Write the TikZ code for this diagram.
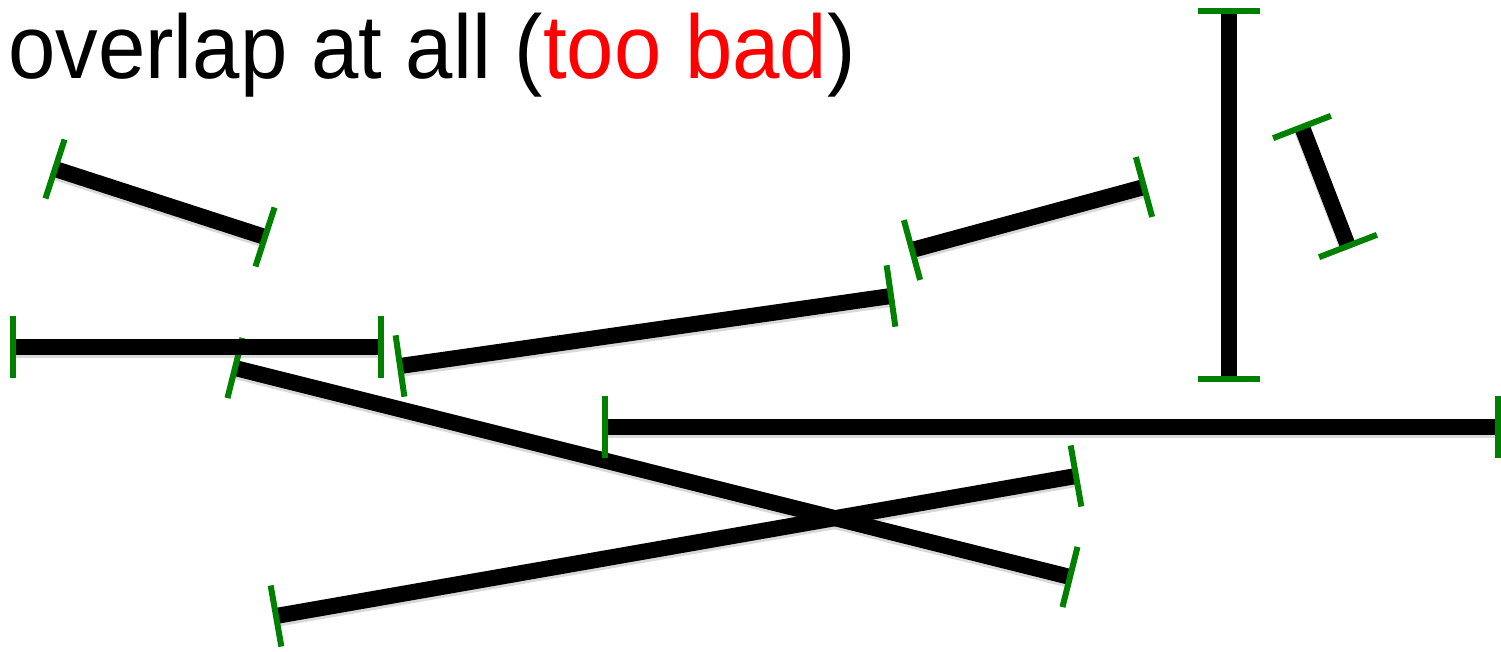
\documentclass[tikz,border=0pt]{standalone}
\usepackage{fontspec}
\setmainfont{Liberation Sans}
\usetikzlibrary{calc}
\definecolor{tickgreen}{RGB}{0,128,0}
\definecolor{badred}{RGB}{255,0,0}
\tikzset{
  seg/.style={line width=8pt, black},
  segshadow/.style={line width=8pt, black!15},
  tickmark/.style={line width=3pt, tickgreen},
  title/.style={font=\fontsize{43}{50}\selectfont, inner sep=0pt, anchor=base west, xscale=0.99, yscale=1.05},
}
\newcommand{\segment}[2]{%
  \draw[seg] (#1) -- (#2);
  \draw[tickmark] ($(#1)!15.5pt!90:(#2)$) -- ($(#1)!15.5pt!-90:(#2)$);
  \draw[tickmark] ($(#2)!15.5pt!90:(#1)$) -- ($(#2)!15.5pt!-90:(#1)$);
}
\begin{document}
\begin{tikzpicture}[x=0.5pt,y=-0.5pt]
\useasboundingbox (0,0) rectangle (1501,652);
\node[title] (t) at (8,79) {overlap at all (\textcolor{badred}{too bad})};
% endpoints
\coordinate (a1) at (55,169);   \coordinate (b1) at (265,237);
\coordinate (a2) at (13,347);   \coordinate (b2) at (381,347);
\coordinate (a3) at (400,366);  \coordinate (b3) at (891,296);
\coordinate (a4) at (912,250);  \coordinate (b4) at (1144,187);
\coordinate (a5) at (1229,11);  \coordinate (b5) at (1229,379);
\coordinate (a6) at (1302,127); \coordinate (b6) at (1348,246);
\coordinate (a7) at (235,368);  \coordinate (b7) at (1070,577);
\coordinate (a8) at (605,427);  \coordinate (b8) at (1498,427);
\coordinate (a9) at (276,616);  \coordinate (b9) at (1076,476);
\foreach \i in {1,...,9}{
  \draw[segshadow] ([yshift=-1.5pt]a\i) -- ([yshift=-1.5pt]b\i);
}
\segment{a1}{b1}
\segment{a7}{b7}
\segment{a2}{b2}
\segment{a3}{b3}
\segment{a4}{b4}
\segment{a5}{b5}
\segment{a6}{b6}
\segment{a8}{b8}
\segment{a9}{b9}
\end{tikzpicture}
\end{document}
